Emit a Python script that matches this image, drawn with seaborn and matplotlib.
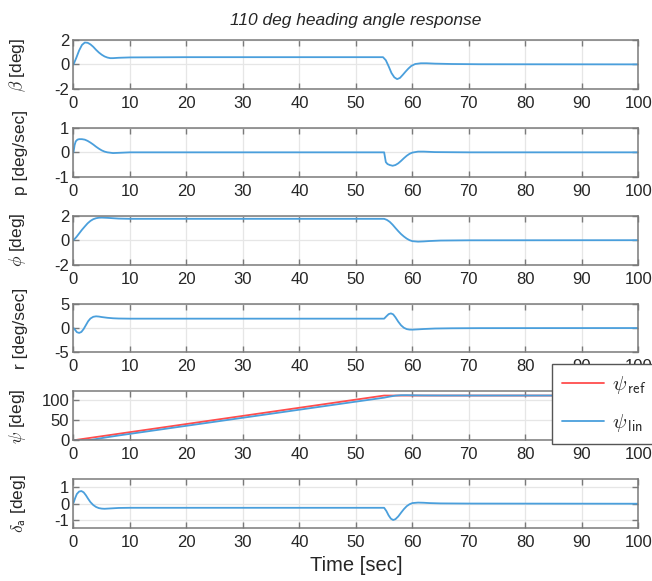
import matplotlib
matplotlib.use("Agg")
import matplotlib.pyplot as plt
import seaborn as sns
import pandas as pd

# ---------------- data ----------------
t_beta = [0, 0.5, 1, 1.5, 2, 2.5, 3, 3.5, 4, 4.5, 5, 5.5, 6, 6.5, 7, 8, 10, 20, 54.8,
          55.3, 55.8, 56.3, 56.8, 57.3, 57.8, 58.3, 58.8, 59.3, 59.8, 60.5, 61.5, 62.5, 64, 67, 72, 100]
beta = [0, 0.55, 1.15, 1.6, 1.8, 1.78, 1.65, 1.45, 1.2, 0.98, 0.8, 0.66, 0.57, 0.52, 0.52, 0.55, 0.58, 0.6, 0.6,
        0.35, -0.15, -0.7, -1.05, -1.2, -1.1, -0.85, -0.58, -0.33, -0.12, 0.04, 0.1, 0.1, 0.07, 0.04, 0.02, 0.01]

t_p = [0, 0.2, 0.4, 0.7, 1, 1.5, 2, 2.5, 3, 3.5, 4, 4.5, 5, 5.5, 6, 7, 8, 10, 55.0,
       55.3, 55.6, 56, 56.5, 57, 57.5, 58, 58.5, 59, 59.5, 60, 61, 62, 64, 70, 100]
p = [0, 0.3, 0.45, 0.52, 0.54, 0.54, 0.52, 0.47, 0.4, 0.32, 0.23, 0.15, 0.08, 0.03, 0.0, -0.03, -0.02, 0, 0,
     -0.4, -0.48, -0.52, -0.55, -0.52, -0.45, -0.35, -0.24, -0.14, -0.06, -0.01, 0.03, 0.03, 0.01, 0, 0]

t_phi = [0, 0.5, 1, 1.5, 2, 2.5, 3, 3.5, 4, 4.5, 5, 6, 7, 8, 10, 20, 55.0,
         55.5, 56, 56.5, 57, 57.5, 58, 58.5, 59, 59.5, 60, 61, 62, 63, 65, 70, 100]
phi = [0, 0.25, 0.55, 0.85, 1.12, 1.38, 1.58, 1.72, 1.8, 1.84, 1.85, 1.83, 1.8, 1.77, 1.75, 1.75, 1.75,
       1.66, 1.5, 1.27, 1.0, 0.74, 0.5, 0.3, 0.13, 0.0, -0.08, -0.12, -0.1, -0.07, -0.03, -0.01, 0]

t_r = [0, 0.3, 0.6, 1, 1.4, 1.8, 2.2, 2.6, 3, 3.5, 4, 4.5, 5, 6, 7, 8, 10, 20, 55.0,
       55.4, 55.8, 56.2, 56.6, 57, 57.5, 58, 58.5, 59, 59.5, 60, 61, 62, 64, 67, 72, 100]
r = [0, -0.4, -0.85, -1.0, -0.8, -0.2, 0.6, 1.4, 1.95, 2.3, 2.4, 2.35, 2.25, 2.1, 2.0, 1.95, 1.92, 1.92, 1.92,
     2.4, 2.85, 3.0, 2.8, 2.2, 1.3, 0.55, 0.05, -0.22, -0.32, -0.33, -0.27, -0.2, -0.1, -0.05, -0.02, 0]

t_psi_ref = [0, 55, 100]
psi_ref = [0, 110, 110]

t_psi_lin = [0, 1, 2, 3, 4, 5, 6, 8, 10, 20, 30, 40, 50, 55, 56, 57, 58, 59, 60, 62, 65, 100]
psi_lin = [0, -0.4, -0.5, 0.8, 3.0, 5.3, 7.6, 11.8, 15.8, 35.6, 55.4, 75.2, 95.0, 104.8, 107.5, 109.8,
           110.8, 110.9, 110.6, 110.3, 110.1, 110]

t_da = [0, 0.3, 0.6, 1, 1.4, 1.8, 2.2, 2.6, 3, 3.5, 4, 4.5, 5, 5.5, 6, 7, 8, 10, 20, 55.0,
        55.4, 55.8, 56.2, 56.6, 57, 57.5, 58, 58.5, 59, 59.5, 60, 61, 62, 63, 65, 70, 100]
da = [0.05, 0.35, 0.6, 0.75, 0.78, 0.7, 0.52, 0.3, 0.1, -0.08, -0.2, -0.27, -0.3, -0.31, -0.3, -0.28, -0.26, -0.25,
      -0.25, -0.25, -0.45, -0.72, -0.92, -1.0, -0.95, -0.78, -0.55, -0.33, -0.15, -0.03, 0.04, 0.07, 0.06, 0.04, 0.02, 0.01, 0]

x_ticks = [0, 10, 20, 30, 40, 50, 60, 70, 80, 90, 100]
title_text = "110 deg heading angle response"
xlabel_text = "Time [sec]"
ylabels = [r"$\beta$ [deg]", "p [deg/sec]", r"$\phi$ [deg]", "r [deg/sec]",
           r"$\psi$ [deg]", r"$\delta_{\mathsf{a}}$ [deg]"]
ylims = [(-2, 2), (-1, 1), (-2, 2), (-5, 5), (0, 120), (-1.5, 1.5)]
yticks = [[-2, 0, 2], [-1, 0, 1], [-2, 0, 2], [-5, 0, 5], [0, 50, 100], [-1, 0, 1]]
legend_labels = [r"$\psi_{\,\mathsf{ref}}$", r"$\psi_{\,\mathsf{lin}}$"]

# ---------------- style ----------------
sns.set_theme(style="whitegrid")
plt.rcParams["font.family"] = ["Liberation Sans", "DejaVu Sans"]
plt.rcParams["mathtext.fontset"] = "cm"
plt.rcParams["axes.unicode_minus"] = False

BLUE = "#4a9fdc"
RED = "#ff4d4d"
EDGE = "#7a7a7a"
TXT = "#262626"

fig = plt.figure(figsize=(6.52, 5.81), dpi=100)
gs = fig.add_gridspec(6, 1, left=0.1127, right=0.979, top=0.931, bottom=0.091, hspace=0.8)

series = [(t_beta, beta), (t_p, p), (t_phi, phi), (t_r, r), None, (t_da, da)]
axes = []
for i in range(6):
    ax = fig.add_subplot(gs[i])
    axes.append(ax)
    if i == 4:
        df_ref = pd.DataFrame({"t": t_psi_ref, "v": psi_ref})
        df_lin = pd.DataFrame({"t": t_psi_lin, "v": psi_lin})
        sns.lineplot(data=df_ref, x="t", y="v", ax=ax, color=RED, linewidth=1.3,
                     label=legend_labels[0], legend=False)
        sns.lineplot(data=df_lin, x="t", y="v", ax=ax, color=BLUE, linewidth=1.3,
                     label=legend_labels[1], legend=False)
    else:
        tt, vv = series[i]
        df = pd.DataFrame({"t": tt, "v": vv})
        sns.lineplot(data=df, x="t", y="v", ax=ax, color=BLUE, linewidth=1.3)
    ax.set_xlim(0, 100)
    ax.set_ylim(*ylims[i])
    ax.set_xticks(x_ticks)
    ax.set_yticks(yticks[i])
    ax.set_xlabel("")
    ax.set_ylabel(ylabels[i], fontsize=12.5, color=TXT)
    ax.yaxis.set_label_coords(-0.08, 0.5)
    ax.grid(True, color="#e6e6e6", linewidth=0.9)
    ax.set_facecolor("white")
    for s in ax.spines.values():
        s.set_color(EDGE)
        s.set_linewidth(1.1)
    ax.tick_params(axis="both", which="both", direction="in", length=4, width=1.0,
                   color=EDGE, labelsize=12, labelcolor=TXT, top=True, right=True,
                   bottom=True, left=True)
    ax.tick_params(axis="x", pad=5)
    ax.tick_params(axis="y", pad=3)

axes[0].set_title(title_text, fontsize=12.5, style="italic", color=TXT, pad=11)
axes[-1].set_xlabel(xlabel_text, fontsize=14.5, color=TXT, labelpad=4)

handles, labels = axes[4].get_legend_handles_labels()
leg = fig.legend(handles, labels, loc="upper left", bbox_to_anchor=(552 / 652, 1 - 364 / 581),
                 fontsize=15, frameon=True, fancybox=False, framealpha=1, edgecolor="#555555",
                 handlelength=2.0, labelspacing=0.75, borderpad=0.5, handletextpad=0.4,
                 borderaxespad=0)
leg.get_frame().set_linewidth(1.0)

fig.savefig("out.png", dpi=100)
